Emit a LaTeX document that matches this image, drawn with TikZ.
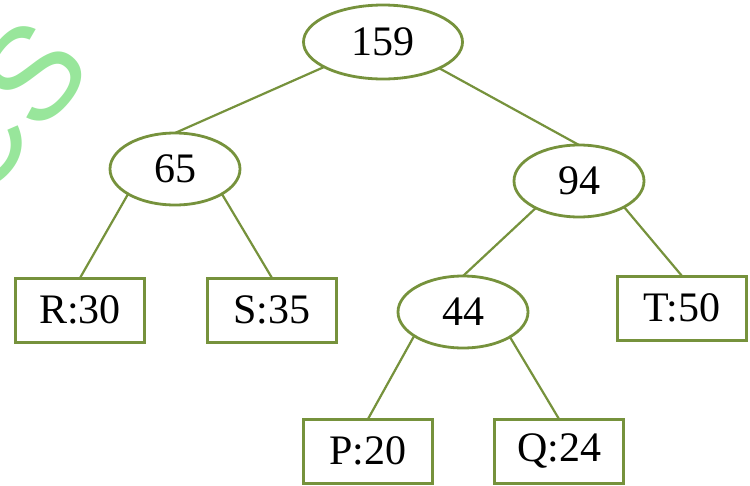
\documentclass[tikz,border=0pt]{standalone}
\usepackage{fontspec}
\setmainfont{Liberation Serif}
\newfontfamily\wmfont{Liberation Sans}
\usetikzlibrary{positioning,shapes.geometric}
\definecolor{olv}{RGB}{118,146,60}
\definecolor{wmgreen}{RGB}{152,230,155}
\tikzset{
  sum/.style  ={ellipse, draw=olv, line width=2.8pt, inner sep=0pt, outer sep=0pt,
                minimum width=130pt, minimum height=72pt,
                font=\fontsize{42}{46}\selectfont},
  root/.style ={sum, minimum width=159pt, minimum height=74pt},
  leaf/.style ={rectangle, draw=olv, line width=3pt, inner sep=0pt, outer sep=0pt,
                minimum width=129pt, minimum height=64pt,
                font=\fontsize{42}{46}\selectfont},
  ln/.style   ={draw=olv, line width=2.2pt},
  wmark/.style={text=wmgreen, font=\wmfont\fontsize{132}{136}\selectfont,
                inner sep=0pt},
}

\begin{document}
\begin{tikzpicture}[x=1pt, y=-1pt]
  \useasboundingbox (0,0) rectangle (750,485);
  \clip (0,0) rectangle (750,485);

  % ---- watermark fragment ----
  \node[wmark, rotate=50] (wm) at (2,110) {CS};

  % ---- internal sums ----
  \node[root] (n159) at (383,42) {159};
  \node[sum, below=54pt of n159, xshift=-208pt] (n65) {65};
  \node[sum, below=66pt of n159, xshift=196pt]  (n94) {94};
  \node[sum, below=59pt of n94, xshift=-116pt]  (n44) {44};

  % ---- leaves ----
  \node[leaf, below=73pt of n65, xshift=-95pt] (R) {R:30};
  \node[leaf, below=73pt of n65, xshift=97pt]  (S) {S:35};
  \node[leaf, below=59pt of n94, xshift=103pt] (T) {T:50};
  \node[leaf, below=71pt of n44, xshift=-95pt] (P) {P:20};
  \node[leaf, below=71pt of n44, xshift=96pt]  (Q) {Q:24};

  % ---- connectors ----
  \draw[ln] (n159.203) -- (n65.north);
  \draw[ln] (n159.335) -- (n94.north);
  \draw[ln] (n65.208) -- (R.north);
  \draw[ln] (n65.332) -- (S.north);
  \draw[ln] (n94.212) -- (n44.north);
  \draw[ln] (n94.330) -- (T.north);
  \draw[ln] (n44.206) -- (P.north);
  \draw[ln] (n44.332) -- (Q.north);
\end{tikzpicture}
\end{document}
